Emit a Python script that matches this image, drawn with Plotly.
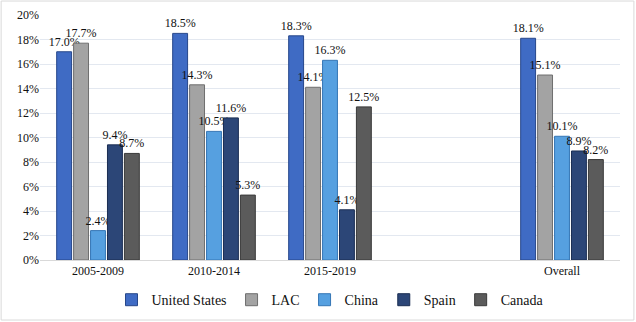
import plotly.graph_objects as go

categories = ["2005-2009", "2010-2014", "2015-2019", " ", "Overall"]
series_names = ["United States", "LAC", "China", "Spain", "Canada"]
us = [17.0, 18.5, 18.3, None, 18.1]
lac = [17.7, 14.3, 14.1, None, 15.1]
china = [2.4, 10.5, 16.3, None, 10.1]
spain = [9.4, 11.6, 4.1, None, 8.9]
canada = [8.7, 5.3, 12.5, None, 8.2]
y_ticks = [0, 2, 4, 6, 8, 10, 12, 14, 16, 18, 20]

values = [us, lac, china, spain, canada]
colors = ["#3F6BC4", "#A3A3A3", "#56A0E0", "#2C4677", "#5B5B5B"]
edges = ["#27478A", "#6E6E6E", "#3576B5", "#1A2D52", "#3A3A3A"]

fig = go.Figure()
for name, vals, c, e in zip(series_names, values, colors, edges):
    fig.add_trace(go.Bar(
        name=name, x=categories, y=vals,
        marker=dict(color=c, line=dict(color=e, width=1)),
        text=[("" if v is None else f"{v:.1f}%") for v in vals],
        textposition="outside", cliponaxis=False, constraintext="none",
        textfont=dict(family="Liberation Serif", size=12, color="#111"),
    ))

fig.update_layout(
    width=636, height=322,
    margin=dict(l=40, r=16, t=15, b=62, autoexpand=False),
    barmode="group", bargap=0.27, bargroupgap=0.12,
    plot_bgcolor="white", paper_bgcolor="white",
    font=dict(family="Liberation Serif", size=12, color="#111"),
    showlegend=True,
    legend=dict(orientation="h", x=0.5, xanchor="center",
                yref="container", y=0.068, yanchor="middle",
                font=dict(size=14, family="Liberation Serif", color="#111"),
                itemwidth=30, tracegroupgap=0),
    xaxis=dict(type="category", showgrid=False, ticks="", showline=True,
               linecolor="#D9D9D9", linewidth=1, tickfont=dict(size=12)),
    yaxis=dict(range=[0, 20], tickvals=y_ticks,
               ticktext=[f"{t}%" for t in y_ticks],
               showgrid=True, gridcolor="#E3E8F0", gridwidth=1,
               zeroline=False, ticks="", tickfont=dict(size=12)),
    shapes=[dict(type="rect", xref="paper", yref="paper",
                 x0=-0.067, x1=1.024, y0=-0.245, y1=1.057,
                 line=dict(color="#D9D9D9", width=1), fillcolor="rgba(0,0,0,0)")],
)

fig.write_html("out.html")
